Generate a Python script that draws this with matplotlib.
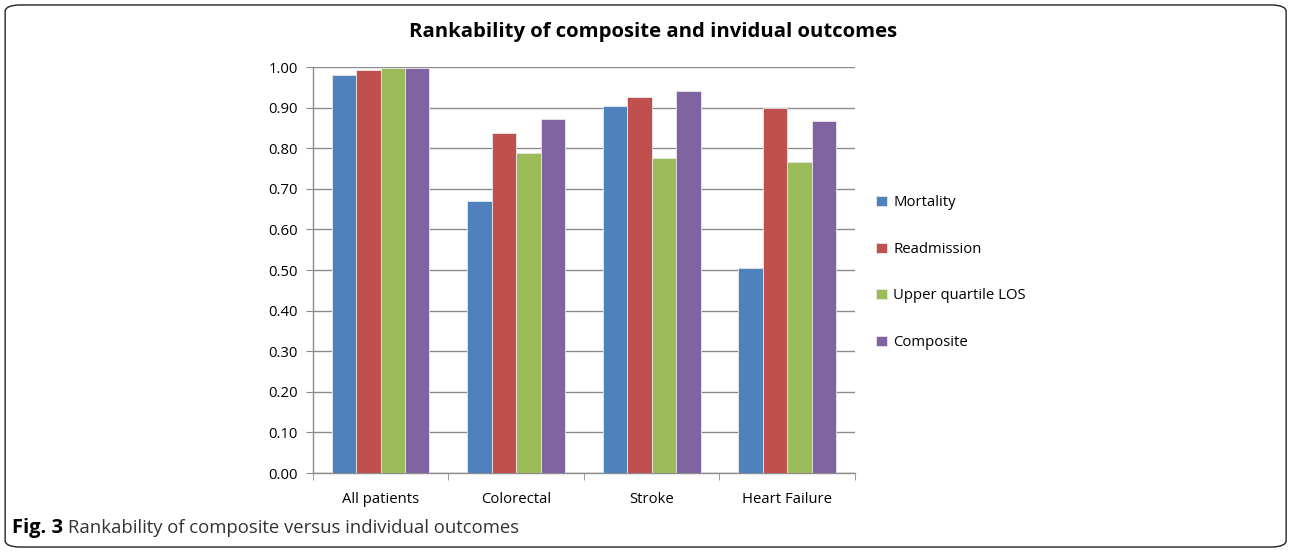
import numpy as np
import matplotlib.pyplot as plt
from matplotlib.patches import FancyBboxPatch

plt.rcParams['font.family'] = ['Open Sans', 'DejaVu Sans']

categories = ["All patients", "Colorectal", "Stroke", "Heart Failure"]
series = ["Mortality", "Readmission", "Upper quartile LOS", "Composite"]
mortality = [0.980, 0.670, 0.904, 0.506]
readmission = [0.993, 0.838, 0.927, 0.899]
upper_los = [0.998, 0.788, 0.777, 0.767]
composite = [0.997, 0.872, 0.941, 0.867]
colors = ["#4F81BD", "#C0504D", "#9BBB59", "#8064A2"]
yticks = np.arange(0, 1.01, 0.1)


def main():
    fig = plt.figure(figsize=(12.9, 5.52), dpi=100)
    ax = fig.add_axes([0.2426, 0.1431, 0.4202, 0.7355])

    values = [mortality, readmission, upper_los, composite]
    x = np.arange(len(categories))
    w = 0.18
    for i, (name, vals) in enumerate(zip(series, values)):
        ax.bar(x + (i - 1.5) * w, vals, width=w, color=colors[i],
               edgecolor="#e8e8e8", linewidth=0.6, label=name, zorder=3)

    ax.set_xlim(-0.5, len(categories) - 0.5)
    ax.set_ylim(0, 1.0)
    ax.set_yticks(yticks)
    ax.set_yticklabels([f"{v:.2f}" for v in yticks])
    ax.yaxis.grid(True, color="#8c8c8c", linewidth=1.0, zorder=0)
    ax.set_axisbelow(True)

    ax.set_xticks(x)
    ax.set_xticklabels(categories)
    ax.set_xticks(np.arange(-0.5, len(categories)), minor=True)
    ax.tick_params(axis="x", which="major", length=0, pad=14, labelsize=10.7)
    ax.tick_params(axis="x", which="minor", length=5, color="#8c8c8c", direction="out")
    ax.tick_params(axis="y", length=5, color="#8c8c8c", labelsize=10.7, pad=6)

    for s in ["top", "right"]:
        ax.spines[s].set_visible(False)
    for s in ["left", "bottom"]:
        ax.spines[s].set_color("#8c8c8c")
        ax.spines[s].set_linewidth(1.0)

    ax.legend(loc="center left", bbox_to_anchor=(0.669, 0.506), bbox_transform=fig.transFigure,
              frameon=False, fontsize=10.7, handlelength=0.7, handleheight=0.7,
              handletextpad=0.45, labelspacing=2.12)

    fig.text(0.506, 0.942, "Rankability of composite and invidual outcomes",
             ha="center", va="center", fontsize=14.6, fontweight="bold")

    t1 = fig.text(0.0095, 0.043, "Fig. 3", ha="left", va="center", fontsize=14.5, fontweight="bold")
    ax.annotate("Rankability of composite versus individual outcomes", xy=(1, 0.5), xycoords=t1,
                xytext=(5, 0), textcoords="offset pixels", ha="left", va="center",
                fontsize=13.3, color="#333333", annotation_clip=False)

    border = FancyBboxPatch((0.004, 0.009), 0.993, 0.982, boxstyle="round,pad=0,rounding_size=0.012",
                            transform=fig.transFigure, fill=False, edgecolor="#222222", linewidth=1.0)
    fig.patches.append(border)

    fig.savefig("out.png", dpi=100)


if __name__ == "__main__":
    main()
